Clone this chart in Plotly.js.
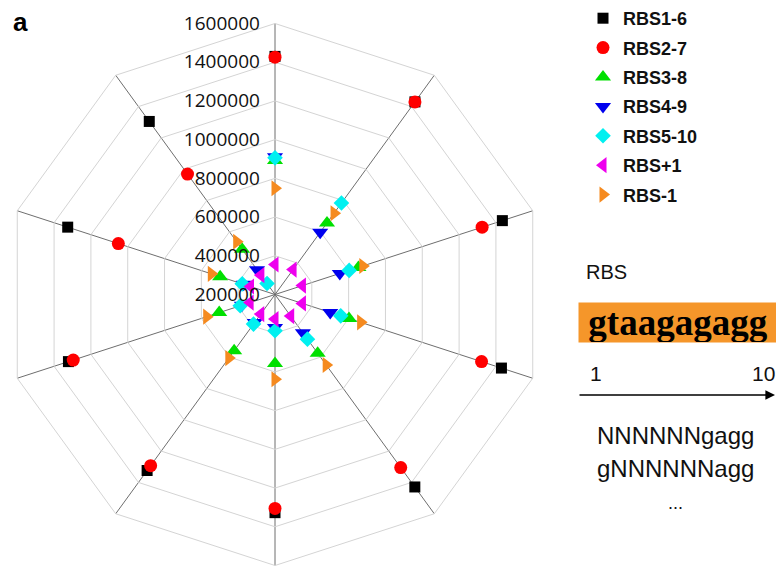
<!DOCTYPE html>
<html><head><meta charset="utf-8">
<script src="https://cdn.plot.ly/plotly-3.0.1.min.js"></script>
<style>html,body{margin:0;padding:0;background:#fff}</style>
</head><body><div id="chart" style="width:776px;height:566px"></div>
<script>
// Spoke categories (clockwise from top)
const positions = ['1','2','3','4','5','6','7','8','9','10'];
const seriesNames = ['RBS1-6','RBS2-7','RBS3-8','RBS4-9','RBS5-10','RBS+1','RBS-1'];
const rbs1_6  = [1430000,1430000,1435000,1430000,1429000,1327000,1324000,1322000,1326000,1305000];
const rbs2_7  = [1426000,1430000,1325000,1322000,1305000,1305000,1293000,1296000,1051000,969000];
const rbs3_8  = [892000,657000,653000,602000,575000,556000,559000,503000,498000,489000];
const rbs4_9  = [912000,597000,552000,500000,445000,370000,378000,380000,370000,358000];
const rbs5_10 = [906000,784000,603000,557000,485000,387000,389000,389000,378000,270000];
const rbsP1   = [355000,359000,349000,349000,338000,327000,325000,335000,333000,324000];
const rbsM1   = [749000,719000,677000,665000,650000,638000,606000,571000,546000,537000];
const radialTicks = [200000,400000,600000,800000,1000000,1200000,1400000,1600000];

const W = 776, H = 566;
const px = x => x / W, py = y => 1 - y / H;

const styles = [
  {symbol:'square', color:'#000000', size:11},
  {symbol:'circle', color:'#ff0000', size:13},
  {symbol:'triangle-up', color:'#00e000', size:14},
  {symbol:'triangle-down', color:'#0000ee', size:14},
  {symbol:'diamond', color:'#00f0f0', size:12},
  {symbol:'triangle-left', color:'#ee00ee', size:14},
  {symbol:'triangle-right', color:'#f58a1f', size:14}
];
const allValues = [rbs1_6, rbs2_7, rbs3_8, rbs4_9, rbs5_10, rbsP1, rbsM1];

const traces = allValues.map((vals, i) => ({
  type: 'scatterpolar',
  mode: 'markers',
  name: seriesNames[i],
  legendgroup: seriesNames[i],
  r: vals,
  theta: positions,
  marker: {symbol: styles[i].symbol, color: styles[i].color, size: styles[i].size, line: {width: 0}},
  hoverinfo: 'skip'
}));

const layout = {
  width: W, height: H,
  margin: {l: 0, r: 0, t: 0, b: 0},
  paper_bgcolor: '#ffffff',
  showlegend: true,
  legend: {
    x: px(583), y: py(0), xanchor: 'left', yanchor: 'top',
    font: {family: 'Liberation Sans, Arial, sans-serif', size: 18, color: '#111', weight: 'bold'},
    tracegroupgap: 3, bgcolor: 'rgba(0,0,0,0)'
  },
  polar: {
    domain: {x: [px(3.75), px(546.25)], y: [py(565.5), py(23.5)]},
    gridshape: 'linear',
    bgcolor: '#ffffff',
    radialaxis: {
      range: [200000, 1600000], tickvals: radialTicks, ticktext: radialTicks.map(String),
      angle: 90, side: 'counterclockwise', tickangle: 90,
      showline: false, ticks: 'outside', ticklen: 8, tickcolor: 'rgba(0,0,0,0)',
      gridcolor: '#d4d4d4', gridwidth: 1,
      tickfont: {family: 'Open Sans, sans-serif', size: 19, color: '#111'}
    },
    angularaxis: {
      type: 'category', categoryarray: positions, direction: 'clockwise', rotation: 90,
      showticklabels: false, ticks: '', gridcolor: '#6e6e6e', gridwidth: 1,
      linecolor: '#d4d4d4', linewidth: 1, showline: true
    }
  },
  annotations: [
    {xref:'paper', yref:'paper', x: px(11), y: py(22), xanchor:'left', yanchor:'middle', showarrow:false,
     text:'<b>a</b>', font:{family:'Liberation Sans, Arial, sans-serif', size: 26, color:'#000'}},
    {xref:'paper', yref:'paper', x: px(584), y: py(272), xanchor:'left', yanchor:'middle', showarrow:false,
     text:'RBS', font:{family:'Liberation Sans, Arial, sans-serif', size: 20, color:'#111'}},
    {xref:'paper', yref:'paper', x: px(578), y: py(322.5), xanchor:'left', yanchor:'middle', showarrow:false,
     text:'<b>gtaagagagg</b>', width: 198, height: 39, align:'center', bgcolor:'#f5962a', borderpad: 0,
     font:{family:'Liberation Serif, Times New Roman, serif', size: 37, color:'#000'}},
    {xref:'paper', yref:'paper', x: px(588), y: py(373), xanchor:'left', yanchor:'middle', showarrow:false,
     text:'1', font:{family:'Liberation Sans, Arial, sans-serif', size: 21, color:'#111'}},
    {xref:'paper', yref:'paper', x: px(777), y: py(373), xanchor:'right', yanchor:'middle', showarrow:false,
     text:'10', font:{family:'Liberation Sans, Arial, sans-serif', size: 21, color:'#111'}},
    {xref:'paper', yref:'paper', x: px(775), y: py(395), ax: -197, ay: 0, axref:'pixel', ayref:'pixel',
     showarrow:true, arrowhead: 2, arrowsize: 1.2, arrowwidth: 1.6, arrowcolor:'#000', text:''},
    {xref:'paper', yref:'paper', x: px(675), y: py(435), xanchor:'center', yanchor:'middle', showarrow:false,
     text:'NNNNNNgagg', font:{family:'Liberation Sans, Arial, sans-serif', size: 24, color:'#111'}},
    {xref:'paper', yref:'paper', x: px(675), y: py(468), xanchor:'center', yanchor:'middle', showarrow:false,
     text:'gNNNNNNagg', font:{family:'Liberation Sans, Arial, sans-serif', size: 24, color:'#111'}},
    {xref:'paper', yref:'paper', x: px(675), y: py(503), xanchor:'center', yanchor:'middle', showarrow:false,
     text:'...', font:{family:'Liberation Sans, Arial, sans-serif', size: 18, color:'#111'}}
  ]
};

Plotly.newPlot('chart', traces, layout, {displayModeBar: false, staticPlot: true});
</script>
</body></html>
